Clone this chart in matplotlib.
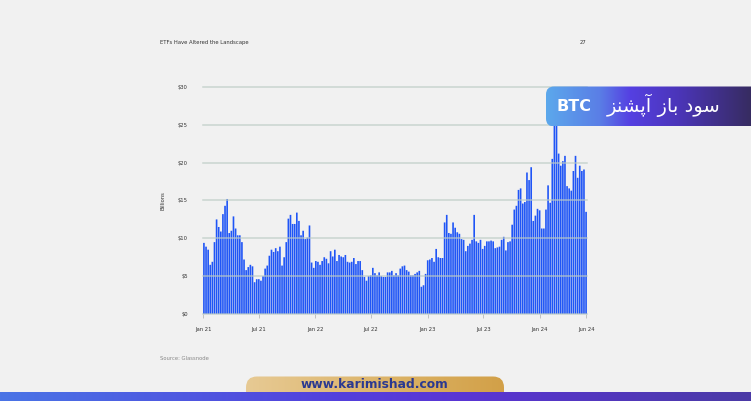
import numpy as np
import pandas as pd
import matplotlib
matplotlib.use('Agg')
import matplotlib.pyplot as plt
from matplotlib.patches import FancyBboxPatch, Rectangle
from matplotlib.colors import LinearSegmentedColormap

# ---------------- data ----------------
oi_billions = [
    9.4, 8.9, 8.5, 6.5, 6.9, 9.5, 12.5, 11.5, 10.9, 13.2, 14.3, 15.2, 10.7, 11.0, 12.9, 11.3,
    10.4, 10.4, 9.5, 7.2, 5.8, 6.2, 6.5, 6.3, 4.2, 4.6, 4.6, 4.4, 5.0, 6.0, 6.4, 7.7,
    8.5, 8.2, 8.7, 8.3, 8.9, 6.4, 7.5, 9.5, 12.6, 13.1, 11.9, 11.9, 13.4, 12.3,
    10.4, 11.0, 9.9, 10.1, 11.7, 6.8, 6.1, 7.0, 6.9, 6.5, 7.0, 7.5, 7.3, 6.7, 8.3, 7.6,
    8.5, 7.0, 7.8, 7.6, 7.5, 7.8, 6.9, 6.8, 6.9, 7.4, 6.6, 7.0, 7.0, 5.8, 4.9, 4.4,
    5.0, 5.1, 6.1, 5.4, 5.1, 5.5, 5.0, 4.9, 4.9, 5.5, 5.5, 5.7, 5.1, 5.4,
    5.1, 6.0, 6.3, 6.4, 5.8, 5.6, 5.1, 5.1, 5.3, 5.5, 5.7, 3.6, 3.8, 5.3, 7.1, 7.2,
    7.4, 6.9, 8.6, 7.5, 7.4, 7.4, 12.1, 13.1, 10.7, 10.6, 12.1, 11.4, 10.8, 10.6, 9.9, 9.8,
    8.3, 9.0, 9.3, 9.8, 13.1, 9.6, 9.4, 9.8, 8.6, 9.0, 9.6, 9.6,
    9.7, 9.6, 8.7, 8.8, 8.9, 9.8, 10.2, 8.4, 9.5, 9.6, 11.8, 13.8, 14.3, 16.4, 16.6, 14.6,
    14.8, 18.7, 17.7, 19.4, 12.3, 13.0, 13.9, 13.7, 11.3, 11.3, 13.8, 17.0, 14.7, 20.5, 27.5, 28.5,
    21.2, 19.6, 20.2, 20.9, 16.9, 16.6, 16.3, 18.9, 20.9, 18.0, 19.6, 18.9, 19.1, 13.5,
]
first_week = '2021-01-03'
last_week = '2024-05-31'
tick_dates = ['2021-01-01', '2021-07-01', '2022-01-01', '2022-07-01',
              '2023-01-01', '2023-07-01', '2024-01-01', '2024-06-01']
tick_labels = ['Jan 21', 'Jul 21', 'Jan 22', 'Jul 22', 'Jan 23', 'Jul 23', 'Jan 24', 'Jun 24']
y_ticks = [0, 5, 10, 15, 20, 25, 30]
y_tick_labels = ['$0', '$5', '$10', '$15', '$20', '$25', '$30']
header_title = 'ETFs Have Altered the Landscape'
page_number = '27'
y_axis_label = 'Billions'
source_text = 'Source: Glassnode'
badge_persian = 'سود باز آپشنز'
badge_latin = 'BTC'
footer_url = 'www.karimishad.com'

# --- minimal Arabic-script shaping (matplotlib has no complex text layout) ---
FORMS = {
    'ا': ('\uFE8D', '\uFE8E', None, None),
    'آ': ('\uFE81', '\uFE82', None, None),
    'ب': ('\uFE8F', '\uFE90', '\uFE91', '\uFE92'),
    'پ': ('\uFB56', '\uFB57', '\uFB58', '\uFB59'),
    'د': ('\uFEA9', '\uFEAA', None, None),
    'ز': ('\uFEAF', '\uFEB0', None, None),
    'س': ('\uFEB1', '\uFEB2', '\uFEB3', '\uFEB4'),
    'ش': ('\uFEB5', '\uFEB6', '\uFEB7', '\uFEB8'),
    'ن': ('\uFEE5', '\uFEE6', '\uFEE7', '\uFEE8'),
    'و': ('\uFEED', '\uFEEE', None, None),
}


def shape_word(word):
    out = []
    for i, ch in enumerate(word):
        if ch not in FORMS:
            out.append(ch)
            continue
        prev = word[i - 1] if i > 0 else None
        nxt = word[i + 1] if i + 1 < len(word) else None
        jp = prev in FORMS and FORMS[prev][2] is not None
        jn = nxt in FORMS and FORMS[ch][2] is not None
        iso, fin, ini, med = FORMS[ch]
        out.append(med if (jp and jn) else fin if jp else ini if jn else iso)
    return ''.join(reversed(out))


def visual_rtl(text):
    return ' '.join(shape_word(w) for w in reversed(text.split(' ')))


# ---------------- figure ----------------
W, H = 751, 401
BG = '#f1f1f1'
fig = plt.figure(figsize=(W / 100, H / 100), dpi=100, facecolor=BG)
ax = fig.add_axes([203 / W, 1 - 314 / H, 384 / W, 227 / H])
ax.set_facecolor('none')

dates = pd.date_range(first_week, last_week, periods=len(oi_billions))
step_days = (dates[1] - dates[0]).total_seconds() / 86400
bars = ax.bar(dates, oi_billions, width=step_days * 0.78, color='#1f55f6', linewidth=0)
for b in bars:
    b.set_snap(False)

ax.set_ylim(0, 30)
ax.set_xlim(pd.Timestamp('2020-12-31'), pd.Timestamp('2024-06-03'))
ax.set_yticks(y_ticks)
ax.set_yticklabels(y_tick_labels)
ax.set_xticks(pd.to_datetime(tick_dates))
ax.set_xticklabels(tick_labels)
ax.set_axisbelow(False)
ax.grid(axis='y', color='#bccbc4', linewidth=1.1, alpha=0.75)
for gl in ax.get_ygridlines():
    gl.set_clip_on(False)
for s in ax.spines.values():
    s.set_visible(False)
ax.tick_params(axis='x', length=3, width=0.6, color='#b8b8b8', pad=6,
               labelsize=3.8, labelcolor='#333333')
ax.tick_params(axis='y', length=0, pad=11, labelsize=3.8, labelcolor='#333333')

fig.text(160 / W, 1 - 42.7 / H, header_title, fontsize=3.8, color='#333333',
         ha='left', va='center')
fig.text(583 / W, 1 - 42.7 / H, page_number, fontsize=3.8, color='#333333',
         ha='center', va='center')
fig.text(163 / W, 1 - 201 / H, y_axis_label, fontsize=3.8, color='#333333',
         rotation=90, ha='center', va='center')
fig.text(160 / W, 1 - 358 / H, source_text, fontsize=3.8, color='#888888',
         ha='left', va='center')

# ---------------- overlay (pixel coordinates) ----------------
ov = fig.add_axes([0, 0, 1, 1], zorder=10)
ov.patch.set_alpha(0)
ov.axis('off')


def gradient_patch(patch, x0, x1, y0, y1, stops, z):
    ov.add_patch(patch)
    patch.set_facecolor('none')
    patch.set_edgecolor('none')
    cmap = LinearSegmentedColormap.from_list('g', stops)
    im = ov.imshow(np.linspace(0, 1, 256)[None, :], extent=(x0, x1, y1, y0),
                   cmap=cmap, aspect='auto', zorder=z, interpolation='bilinear')
    im.set_clip_path(patch)


badge = FancyBboxPatch((546, 86.5), 215, 40, boxstyle='round,pad=0,rounding_size=8')
gradient_patch(badge, 546, 761, 86.5, 126.5,
               [(0, '#5ca8ec'), (0.25, '#5a7ee6'), (0.39, '#5540e2'),
                (0.62, '#4b35b8'), (0.95, '#372c62'), (1, '#352b5c')], 2)
ov.text(556, 106.5, badge_latin, fontsize=11.5, fontweight='bold', color='white',
        ha='left', va='center', zorder=5)
ov.text(720, 105.5, visual_rtl(badge_persian), fontsize=14, color='white',
        family='DejaVu Sans', ha='right', va='center', zorder=5)

pill = FancyBboxPatch((246, 376.5), 258, 30, boxstyle='round,pad=0,rounding_size=11')
gradient_patch(pill, 246, 504, 376.5, 406.5,
               [(0, '#e7ca94'), (0.7, '#d9ad5c'), (1, '#d2a048')], 2)

stripe = Rectangle((0, 392), W, 10)
gradient_patch(stripe, 0, W, 392, 402,
               [(0, '#4a74e6'), (0.45, '#5340dc'), (0.62, '#5a35d4'), (1, '#4b3aa6')], 3)

ov.text(374, 384.3, footer_url, fontsize=8.8, fontweight='bold', color='#2b3990',
        ha='center', va='center', zorder=5)

ov.set_xlim(0, W)
ov.set_ylim(H, 0)

fig.savefig('out.png', dpi=100, facecolor=BG)
